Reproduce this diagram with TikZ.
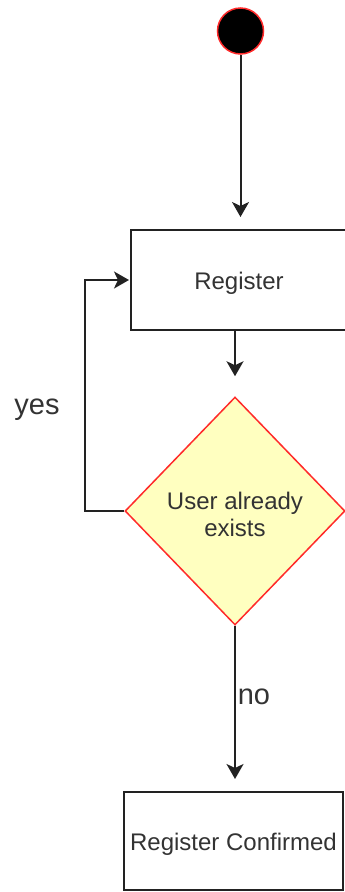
\documentclass[tikz,border=0pt]{standalone}
\usepackage{fontspec}
\setmainfont{Liberation Sans}
\usetikzlibrary{shapes.geometric,arrows.meta}
\definecolor{ink}{HTML}{222222}
\definecolor{txt}{HTML}{333333}
\definecolor{decfill}{HTML}{FFFFC0}
\definecolor{decline}{HTML}{FF2A2A}
\newcommand{\lowered}[1]{\raisebox{-3pt}[\height][\depth]{#1}}
\tikzset{
  flow/.style={draw=ink, line width=2pt, -{Stealth[length=15pt,width=17pt,inset=4pt]}},
  actbox/.style={draw=ink, line width=2pt, fill=white, text=txt,
    font=\fontsize{24}{28}\selectfont, inner sep=0pt},
  decision/.style={diamond, draw=decline, fill=decfill, line width=1.5pt, aspect=1,
    inner sep=0pt, text=txt, align=center, font=\fontsize{24}{27}\selectfont,
    minimum width=220pt, minimum height=228pt},
  initial/.style={circle, fill=black, draw=decline, line width=1.5pt,
    minimum size=46pt, inner sep=0pt},
  lbl/.style={text=txt, font=\fontsize{29}{32}\selectfont, inner sep=0pt}
}
\begin{document}
\begin{tikzpicture}[x=1pt,y=-1pt]
\useasboundingbox (0,0) rectangle (345,892);
% nodes
\node[initial] (start) at (240.5,31) {};
\node[actbox, minimum width=216pt, minimum height=100pt] (reg) at (239,280) {\lowered{Register}};
\node[decision] (dec) at (235,511) {\lowered{User already}\\\lowered{exists}};
\node[actbox, minimum width=219pt, minimum height=98pt] (conf) at (233.5,841) {\lowered{Register Confirmed}};
\coordinate (loop) at (85,280);
% connectors
\draw[flow, shorten >=12pt] (start) -- (start |- reg.north);
\draw[flow, shorten >=20pt] (dec.north |- reg.south) -- (dec.north);
\draw[flow, shorten >=12pt] (dec.south) -- (dec.south |- conf.north);
\draw[flow, shorten >=1pt] (dec.west) -| (loop) -- (reg.west);
% branch labels
\node[lbl] (yes) at (37,410) {yes};
\node[lbl] (no) at (254,697) {no};
\end{tikzpicture}
\end{document}
